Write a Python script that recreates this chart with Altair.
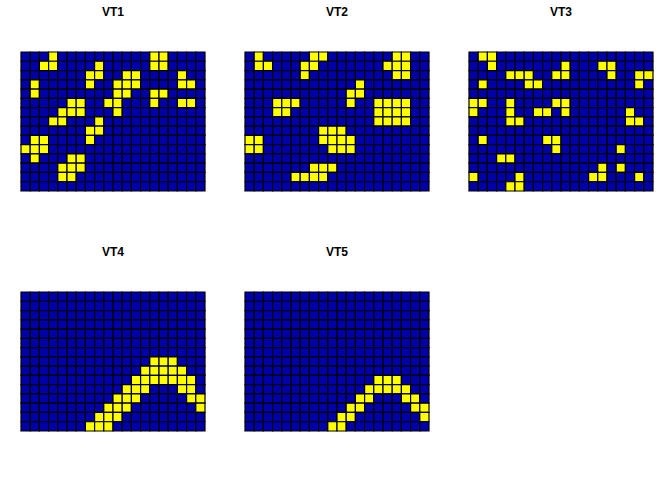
import altair as alt
import pandas as pd

NCOL = 20
NROW = 15

# yellow cells per panel: row index (from top) -> list of column indices
VT1 = {0: [3, 14, 15], 1: [2, 3, 8, 14, 15], 2: [7, 8, 11, 12, 17],
       3: [1, 7, 10, 11, 12, 17, 18], 4: [1, 10, 11, 14, 15],
       5: [5, 6, 9, 10, 14, 17, 18], 6: [4, 5, 6, 10], 7: [3, 4, 8],
       8: [7, 8], 9: [1, 2, 7], 10: [0, 1, 2], 11: [1, 5, 6],
       12: [4, 5, 6], 13: [4, 5], 14: []}
VT2 = {0: [1, 7, 8, 16, 17], 1: [1, 2, 6, 7, 15, 16, 17], 2: [6, 16, 17],
       3: [12], 4: [11, 12], 5: [3, 4, 5, 11, 14, 15, 16, 17],
       6: [3, 4, 14, 15, 16, 17], 7: [14, 15, 16, 17], 8: [8, 9, 10],
       9: [0, 1, 8, 9, 10, 11], 10: [0, 1, 9, 10, 11], 11: [],
       12: [7, 8, 9], 13: [5, 6, 7, 8], 14: []}
VT3 = {0: [1, 2], 1: [2, 10, 14, 15], 2: [4, 5, 6, 9, 10, 15, 18, 19],
       3: [1, 6, 7, 18], 4: [], 5: [0, 1, 4, 9, 10],
       6: [0, 4, 7, 8, 10, 17], 7: [4, 5, 17, 18], 8: [], 9: [1, 8, 9],
       10: [9, 16], 11: [3, 4], 12: [14, 16], 13: [0, 5, 13, 14, 18],
       14: [4, 5]}
VT4 = {7: [14, 15, 16], 8: [13, 14, 15, 16, 17],
       9: [12, 13, 14, 15, 16, 17, 18], 10: [11, 12, 13, 17, 18],
       11: [10, 11, 12, 18, 19], 12: [9, 10, 11, 19], 13: [8, 9, 10],
       14: [7, 8, 9]}
VT5 = {9: [14, 15, 16], 10: [13, 14, 15, 16, 17], 11: [12, 13, 17, 18],
       12: [11, 12, 18, 19], 13: [10, 11, 19], 14: [9, 10]}

PANELS = [("VT1", VT1), ("VT2", VT2), ("VT3", VT3), ("VT4", VT4), ("VT5", VT5)]

BLUE = "#0000AA"
YELLOW = "#FFFF00"


def grid_df(cells):
    rows = []
    for r in range(NROW):
        ys = set(cells.get(r, []))
        for c in range(NCOL):
            rows.append({"row": r, "col": c, "v": 1 if c in ys else 0})
    return pd.DataFrame(rows)


def panel(name, cells):
    return alt.Chart(grid_df(cells)).mark_rect(
        stroke="black", strokeWidth=1.2
    ).encode(
        x=alt.X("col:O", axis=None, scale=alt.Scale(paddingInner=0, paddingOuter=0)),
        y=alt.Y("row:O", axis=None, scale=alt.Scale(paddingInner=0, paddingOuter=0)),
        color=alt.Color("v:N", scale=alt.Scale(domain=[0, 1], range=[BLUE, YELLOW]),
                        legend=None),
    ).properties(
        width=184, height=139,
        title=alt.TitleParams(name, fontSize=12, fontWeight="bold",
                              font="Liberation Sans", color="black", offset=32),
    )


charts = [panel(n, c) for n, c in PANELS]
row1 = alt.hconcat(*charts[:3], spacing=38)
row2 = alt.hconcat(*charts[3:], spacing=38)
chart = alt.vconcat(row1, row2, spacing=54).properties(
    padding={"left": 20, "top": 6, "right": 5, "bottom": 5},
    background="white",
).configure_view(stroke=None)

chart.save("out.html", embed_options={"renderer": "svg", "actions": False})
